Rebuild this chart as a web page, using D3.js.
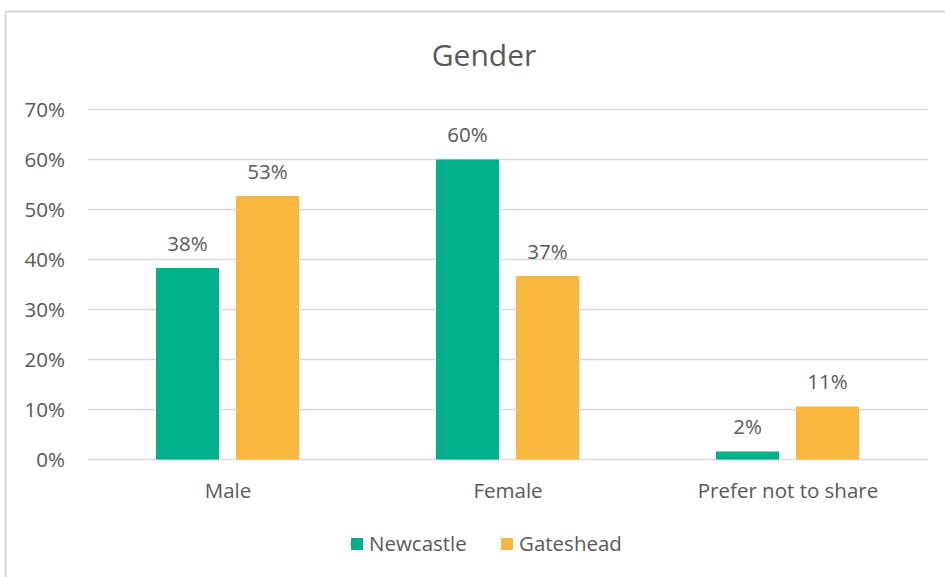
<!DOCTYPE html>
<html>
<head>
<meta charset="utf-8">
<script src="https://cdn.jsdelivr.net/npm/d3@7"></script>
<style>
  html, body { margin: 0; padding: 0; background: #fff; }
  svg { display: block; }
</style>
</head>
<body>
<svg id="chart" width="945" height="577"></svg>
<script>
// Survey responses by gender, share of respondents per area
const categories = ["Male", "Female", "Prefer not to share"];
const seriesNames = ["Newcastle", "Gateshead"];
const newcastle = [0.383, 0.600, 0.016];
const gateshead = [0.527, 0.367, 0.106];
const yTicks = [0, 0.1, 0.2, 0.3, 0.4, 0.5, 0.6, 0.7];
const colors = ["#00b08a", "#f8b840"];

const svg = d3.select("#chart");
const W = 945, H = 577;
const font = "'Open Sans', sans-serif";
const textColor = "#595959";
const labelSize = 20.5;

// chart area frame
svg.append("rect")
  .attr("x", 5.5).attr("y", 11.5)
  .attr("width", W + 10).attr("height", H + 10)
  .attr("fill", "#fff").attr("stroke", "#d9d9d9").attr("stroke-width", 2);

const plot = { left: 88, right: 928, top: 109.5, bottom: 459.5 };

const x0 = d3.scaleBand().domain(categories).range([plot.left, plot.right]).paddingInner(0).paddingOuter(0);
const x1 = d3.scaleBand().domain(seriesNames).range([68, 211]).paddingInner(17 / 80);
const y = d3.scaleLinear().domain([0, 0.7]).range([plot.bottom, plot.top]);

// title
svg.append("text")
  .attr("x", 484).attr("y", 66)
  .attr("text-anchor", "middle")
  .attr("font-family", font).attr("font-size", 30)
  .attr("fill", textColor)
  .text("Gender");

// gridlines
svg.append("g").selectAll("line").data(yTicks).join("line")
  .attr("x1", plot.left).attr("x2", plot.right)
  .attr("y1", d => y(d)).attr("y2", d => y(d))
  .attr("stroke", "#d9d9d9").attr("stroke-width", 1.5);

// y axis labels
const yAxis = d3.axisLeft(y).tickValues(yTicks).tickFormat(d3.format(".0%")).tickSize(0).tickPadding(23);
const gy = svg.append("g").attr("transform", `translate(${plot.left},0)`).call(yAxis);
gy.select(".domain").remove();
gy.selectAll("text")
  .attr("font-family", font).attr("font-size", labelSize).attr("fill", textColor)
  .attr("dy", "0.36em");

// x axis labels
const xAxis = d3.axisBottom(x0).tickSize(0);
const gx = svg.append("g").attr("transform", `translate(0,${plot.bottom})`).call(xAxis);
gx.select(".domain").remove();
gx.selectAll("text")
  .attr("y", 38.5).attr("dy", 0)
  .attr("font-family", font).attr("font-size", labelSize).attr("fill", textColor);

// bars
const rows = categories.map((c, i) => ({
  cat: c,
  vals: [{ s: seriesNames[0], v: newcastle[i], c: colors[0] },
         { s: seriesNames[1], v: gateshead[i], c: colors[1] }]
}));
const fmt = d3.format(".0%");

const groups = svg.append("g").selectAll("g").data(rows).join("g")
  .attr("transform", d => `translate(${x0(d.cat)},0)`);

groups.selectAll("rect").data(d => d.vals).join("rect")
  .attr("x", d => x1(d.s))
  .attr("y", d => y(d.v))
  .attr("width", x1.bandwidth())
  .attr("height", d => y(0) - y(d.v))
  .attr("fill", d => d.c);

groups.selectAll("text").data(d => d.vals).join("text")
  .attr("x", d => x1(d.s) + x1.bandwidth() / 2)
  .attr("y", d => y(d.v) - 17.5)
  .attr("text-anchor", "middle")
  .attr("font-family", font).attr("font-size", labelSize).attr("fill", textColor)
  .text(d => fmt(d.v));

// legend
const legend = svg.append("g");
const legendItems = [
  { name: seriesNames[0], color: colors[0], x: 351 },
  { name: seriesNames[1], color: colors[1], x: 501 }
];
legendItems.forEach(it => {
  legend.append("rect")
    .attr("x", it.x).attr("y", 538)
    .attr("width", 12).attr("height", 12)
    .attr("fill", it.color);
  legend.append("text")
    .attr("x", it.x + 18).attr("y", 551)
    .attr("font-family", font).attr("font-size", labelSize).attr("fill", textColor)
    .text(it.name);
});
</script>
</body>
</html>
